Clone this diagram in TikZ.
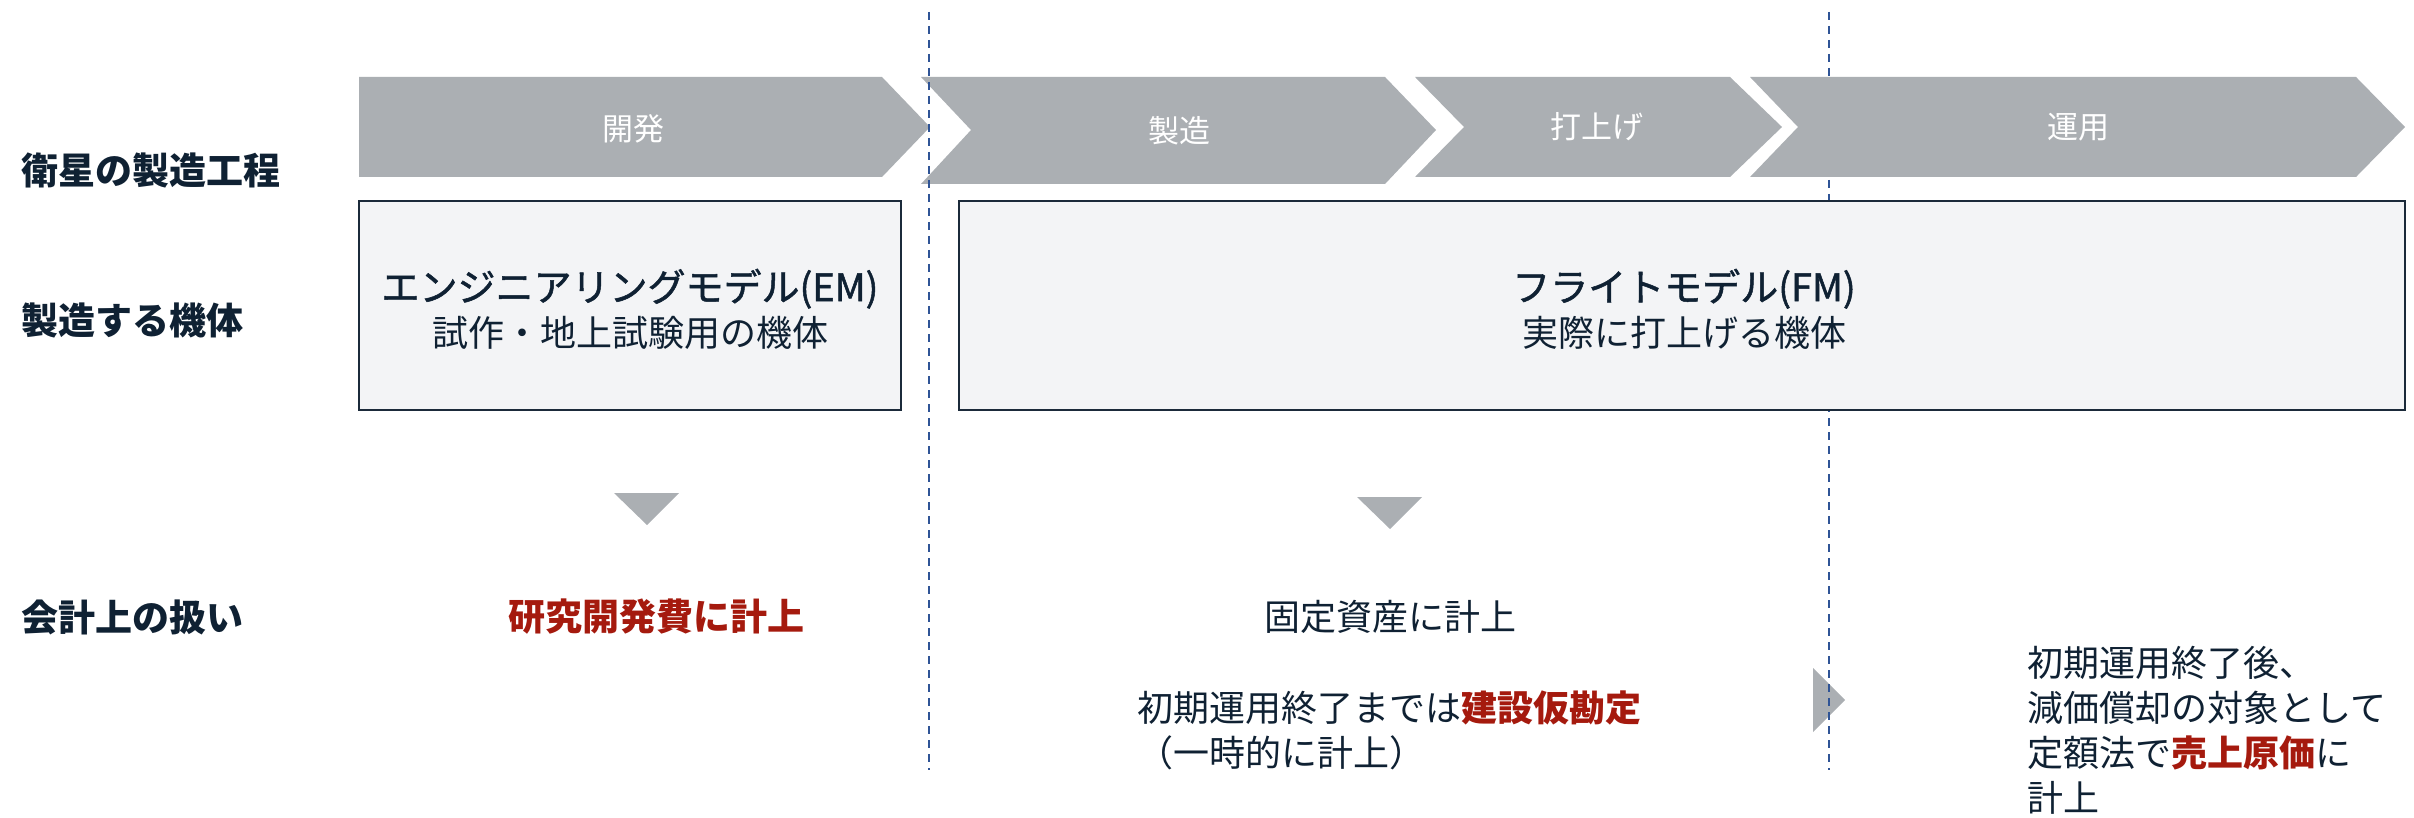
\documentclass[tikz,border=0pt]{standalone}
\usepackage{fontspec}
\setmainfont{Noto Sans CJK JP}
\newfontfamily\titlefont[FakeBold=1.3]{Noto Sans CJK JP}
\usetikzlibrary{positioning}

\definecolor{inkdark}{HTML}{0F2133}
\definecolor{redacc}{HTML}{A51A0E}
\definecolor{chevgray}{HTML}{ABAFB3}
\definecolor{boxfill}{HTML}{F3F4F6}
\definecolor{boxline}{HTML}{1B2A3A}
\definecolor{dashblue}{HTML}{2F5496}

\begin{document}
\begin{tikzpicture}[x=0.5pt,y=-0.5pt,
    phase/.style={fill=chevgray},
    phaselabel/.style={text=white,font=\fontsize{15.5}{18}\selectfont},
    modelbox/.style={draw=boxline,fill=boxfill,line width=1pt},
    rowlabel/.style={text=inkdark,anchor=west,inner sep=0pt,font=\bfseries\fontsize{18.5}{22}\selectfont},
    bodytext/.style={text=inkdark,inner sep=0pt,font=\fontsize{18}{22.5}\selectfont},
    marker/.style={fill=chevgray},
    divider/.style={draw=dashblue,line width=0.8pt,dash pattern=on 4pt off 3pt}]
    \useasboundingbox (0,0) rectangle (2414,818);

    \fill[marker] (1813,668) -- (1845,700) -- (1813,732) -- cycle;
    \draw[divider] (1829,12) -- (1829,770);

    % process chevrons
    \fill[phase] (359,77) -- (882,77) -- (930,127) -- (882,177) -- (359,177) -- cycle;
    \fill[phase] (921,77) -- (1385,77) -- (1436,130) -- (1385,184) -- (921,184) -- (971,130) -- cycle;
    \fill[phase] (1415,77) -- (1730,77) -- (1782,127) -- (1730,177) -- (1415,177) -- (1464,127) -- cycle;
    \fill[phase] (1750,77) -- (2356,77) -- (2405,127) -- (2356,177) -- (1750,177) -- (1798,127) -- cycle;
    \node[phaselabel] (kaihatsu) at (633,129) {開発};
    \node[phaselabel] (seizo) at (1179,131) {製造};
    \node[phaselabel] (uchiage) at (1597,127) {打上げ};
    \node[phaselabel] (unyo) at (2078,127) {運用};

    \draw[modelbox] (359,201) rectangle (901,410);
    \draw[modelbox] (959,201) rectangle (2405,410);
    \draw[divider] (929,12) -- (929,770);

    \node[rowlabel] (koutei) at (21,170) {衛星の製造工程};
    \node[rowlabel] (kitai) at (21,320) {製造する機体};
    \node[rowlabel] (kaikei) at (21,617) {会計上の扱い};

    \node[bodytext,align=center] (em) at (630,309)
        {{\titlefont\fontsize{19}{21}\selectfont エンジニアリングモデル(EM)}\\試作・地上試験用の機体};
    \node[bodytext,align=center] (fm) at (1684,309)
        {{\titlefont\fontsize{19}{21}\selectfont フライトモデル(FM)}\\実際に打上げる機体};

    \fill[marker] (614,493) -- (679,493) -- (647,525) -- cycle;
    \fill[marker] (1357,497) -- (1422,497) -- (1390,529) -- cycle;

    \node[bodytext,text=redacc,font=\bfseries\fontsize{18.5}{22}\selectfont] (kenkyu) at (656,617) {研究開発費に計上};
    \node[bodytext] (kotei) at (1390,617) {固定資産に計上};
    \node[bodytext,align=left,anchor=west] (kenkari) at (1137,730)
        {初期運用終了までは\textcolor{redacc}{\bfseries 建設仮勘定}\\（一時的に計上）};
    \node[bodytext,align=left,anchor=west] (genka) at (2027,730)
        {初期運用終了後、\\減価償却の対象として\\定額法で\textcolor{redacc}{\bfseries 売上原価}に\\計上};
\end{tikzpicture}
\end{document}
